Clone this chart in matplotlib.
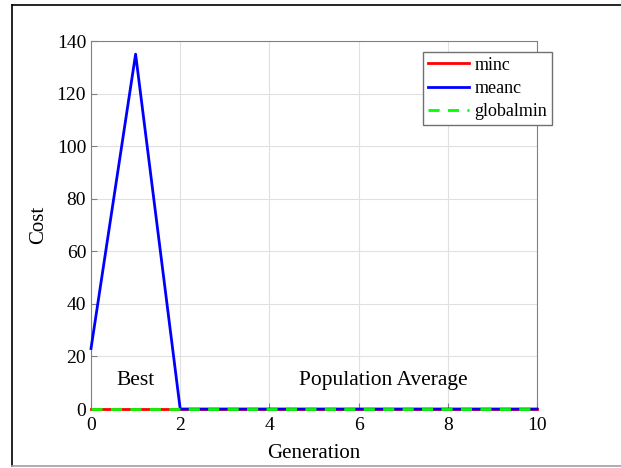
import numpy as np
import matplotlib.pyplot as plt
from matplotlib.lines import Line2D

plt.rcParams['font.family'] = ['Liberation Serif', 'DejaVu Serif']

# data
generation = [0, 1, 2, 3, 4, 5, 6, 7, 8, 9, 10]
minc = [0, 0, 0, 0, 0, 0, 0, 0, 0, 0, 0]
meanc = [23, 135, 0, 0, 0, 0, 0, 0, 0, 0, 0]
globalmin = [0, 0, 0, 0, 0, 0, 0, 0, 0, 0, 0]

fig = plt.figure(figsize=(6.21, 4.68), dpi=100)
ax = fig.add_axes([91 / 621, 1 - 409 / 468, 446 / 621, 368 / 468])

# outer frame around the figure (right side is cut off)
W, H = 621.0, 468.0
fig.lines.append(Line2D([12 / W, 12 / W], [1 - 466 / H, 1 - 5 / H], transform=fig.transFigure,
                        color='black', linewidth=1.2))
fig.lines.append(Line2D([12 / W, 1.0], [1 - 5 / H, 1 - 5 / H], transform=fig.transFigure,
                        color='black', linewidth=1.2))
fig.lines.append(Line2D([12 / W, 1.0], [1 - 466 / H, 1 - 466 / H], transform=fig.transFigure,
                        color='#a0a0a0', linewidth=1.2))

ax.plot(generation, minc, color='red', linewidth=2, label='minc', clip_on=False, zorder=3)
ax.plot(generation, meanc, color='blue', linewidth=2, label='meanc', clip_on=False, zorder=4)
ax.plot(generation, globalmin, color='#00ff00', linewidth=2, linestyle=(0, (4, 3)),
        label='globalmin', clip_on=False, zorder=5)

ax.set_xlim(0, 10)
ax.set_ylim(0, 140)
ax.set_xticks(np.arange(0, 11, 2))
ax.set_yticks(np.arange(0, 141, 20))
ax.grid(True, color='#e0e0e0', linewidth=0.8)
ax.set_axisbelow(True)
for s in ax.spines.values():
    s.set_color('#808080')
ax.tick_params(labelsize=14, colors='#808080', labelcolor='black', direction='in', length=4)
ax.tick_params(axis='x', pad=6)

ax.set_xlabel('Generation', fontsize=15, labelpad=7)
ax.set_ylabel('Cost', fontsize=15, labelpad=6)

ax.text(1.0, 11, 'Best', fontsize=15.5, ha='center', va='center')
ax.text(6.55, 11, 'Population Average', fontsize=15.5, ha='center', va='center')

leg = ax.legend(loc='upper right', fontsize=13, handlelength=2.3, handletextpad=0.3,
                borderaxespad=0, borderpad=0.25, labelspacing=0.35, fancybox=False,
                framealpha=1, bbox_to_anchor=(1.0336, 0.970))
leg.get_frame().set_edgecolor('#707070')

fig.savefig('out.png', dpi=100)
